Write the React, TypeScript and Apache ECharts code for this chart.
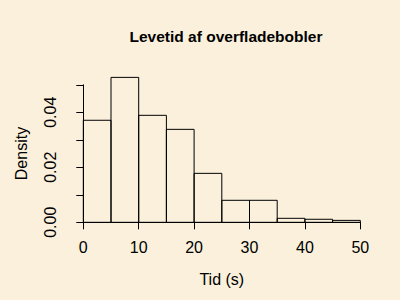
import React, { useEffect, useRef } from "react";
import * as echarts from "echarts";

const binStarts = [0, 5, 10, 15, 20, 25, 30, 35, 40, 45];
const binWidth = 5;
const densities = [0.0371, 0.0527, 0.0389, 0.0338, 0.0178, 0.008, 0.008, 0.00145, 0.0011, 0.0007];
const yLabelsShown = ["0.00", "0.02", "0.04"];

const FONT = "Liberation Sans, Arial, sans-serif";

export default function App() {
  const ref = useRef<HTMLDivElement>(null);
  useEffect(() => {
    if (!ref.current) return;
    const chart = echarts.init(ref.current, null, { renderer: "svg" });
    const data = binStarts.map((s, i) => [s, s + binWidth, densities[i]]);
    chart.setOption({
      animation: false,
      backgroundColor: "#FAF0DC",
      title: {
        text: "Levetid af overfladebobler",
        left: 221,
        top: 23,
        padding: 5,
        textAlign: "center",
        textStyle: { fontFamily: FONT, fontSize: 15.5, fontWeight: "bold", color: "#000" },
      },
      grid: { left: 83.3, right: 39.7, top: 84.8, bottom: 77.7 },
      xAxis: {
        type: "value",
        min: 0,
        max: 50,
        interval: 10,
        offset: 5,
        name: "Tid (s)",
        nameLocation: "middle",
        nameGap: 44,
        nameTextStyle: { fontFamily: FONT, fontSize: 16, color: "#000" },
        axisLine: { show: true, lineStyle: { color: "#000", width: 1 } },
        axisTick: { show: true, length: 7, lineStyle: { color: "#000" } },
        axisLabel: { fontFamily: FONT, fontSize: 16, color: "#000", margin: 12 },
        splitLine: { show: false },
      },
      yAxis: {
        type: "value",
        min: 0,
        max: 0.05,
        interval: 0.01,
        offset: 12,
        name: "Density",
        nameLocation: "middle",
        nameGap: 42,
        nameRotate: 90,
        nameTextStyle: { fontFamily: FONT, fontSize: 16, color: "#000" },
        axisLine: { show: true, lineStyle: { color: "#000", width: 1 } },
        axisTick: { show: true, length: 7, lineStyle: { color: "#000" } },
        axisLabel: {
          fontFamily: FONT,
          fontSize: 16,
          color: "#000",
          rotate: 90,
          margin: 13,
          formatter: (v: number) => {
            const s = v.toFixed(2);
            return yLabelsShown.includes(s) ? s : "";
          },
        },
        splitLine: { show: false },
      },
      series: [
        {
          type: "custom",
          data,
          encode: { x: [0, 1], y: 2 },
          renderItem: (params: any, api: any) => {
            const p0 = api.coord([api.value(0), 0]);
            const p1 = api.coord([api.value(1), api.value(2)]);
            return {
              type: "rect",
              shape: { x: p0[0], y: p1[1], width: p1[0] - p0[0], height: p0[1] - p1[1] },
              style: { fill: "none", stroke: "#000", lineWidth: 1 },
            };
          },
        },
      ],
    });
    return () => chart.dispose();
  }, []);
  return <div ref={ref} style={{ width: 400, height: 300, position: "absolute", left: 0, top: 0 }} />;
}
